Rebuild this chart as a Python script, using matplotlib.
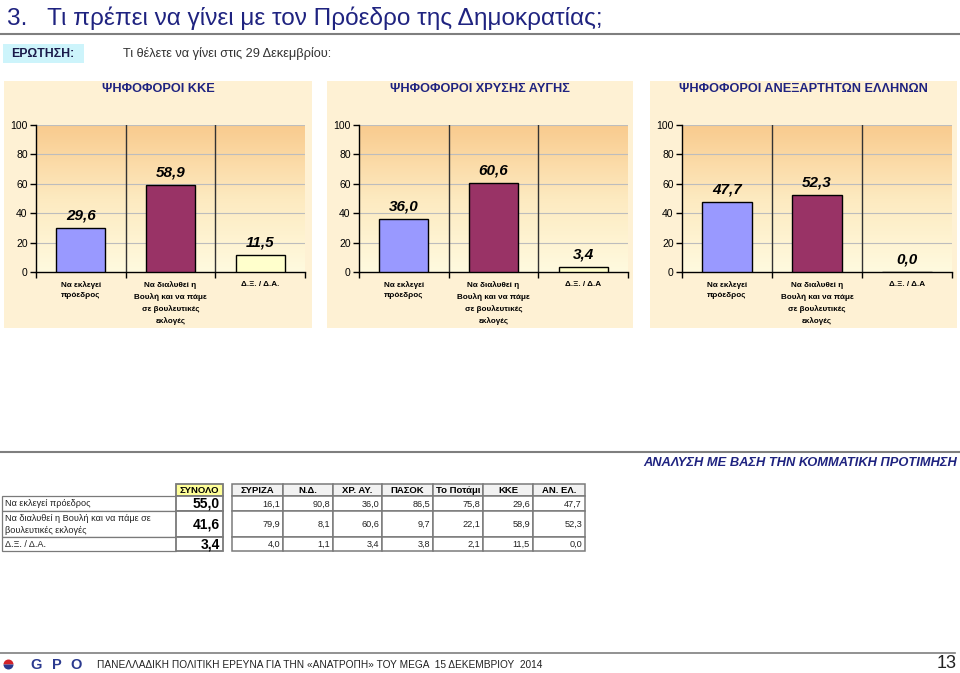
import matplotlib
matplotlib.use("Agg")
import matplotlib.pyplot as plt
import numpy as np
from matplotlib.colors import LinearSegmentedColormap
from matplotlib.patches import Rectangle, Wedge

plt.rcParams['font.family'] = ['Liberation Sans', 'DejaVu Sans']

# data (from the table of the slide)
answers = ["Να εκλεγεί πρόεδρος",
           "Να διαλυθεί η Βουλή και να πάμε σε\nβουλευτικές εκλογές",
           "Δ.Ξ. / Δ.Α."]
total = [55.0, 41.6, 3.4]
parties = ["ΣΥΡΙΖΑ", "Ν.Δ.", "ΧΡ. ΑΥ.", "ΠΑΣΟΚ", "Το Ποτάμι", "ΚΚΕ", "ΑΝ. ΕΛ."]
elect = [16.1, 90.8, 36.0, 86.5, 75.8, 29.6, 47.7]
dissolve = [79.9, 8.1, 60.6, 9.7, 22.1, 58.9, 52.3]
dkna = [4.0, 1.1, 3.4, 3.8, 2.1, 11.5, 0.0]

panel_titles = ["ΨΗΦΟΦΟΡΟΙ ΚΚΕ", "ΨΗΦΟΦΟΡΟΙ ΧΡΥΣΗΣ ΑΥΓΗΣ", "ΨΗΦΟΦΟΡΟΙ ΑΝΕΞΑΡΤΗΤΩΝ ΕΛΛΗΝΩΝ"]
panel_party = ["ΚΚΕ", "ΧΡ. ΑΥ.", "ΑΝ. ΕΛ."]
cat_labels = ["Να εκλεγεί\nπρόεδρος",
              "Να διαλυθεί η\nΒουλή και να πάμε\nσε βουλευτικές\nεκλογές"]
dk_labels = ["Δ.Ξ. / Δ.Α.", "Δ.Ξ. / Δ.Α", "Δ.Ξ. / Δ.Α"]

W, H = 960, 673
NAVY = '#1f2380'
fig = plt.figure(figsize=(W / 100, H / 100), dpi=100)
fig.patch.set_facecolor('white')


def px_axes(x0, y0, x1, y1, **kw):
    return fig.add_axes([x0 / W, 1 - y1 / H, (x1 - x0) / W, (y1 - y0) / H], **kw)


def fmt(v):
    return f"{v:.1f}".replace('.', ',')


# overlay in pixel coordinates for slide decorations
bg = px_axes(0, 0, W, H)
bg.set_xlim(0, W)
bg.set_ylim(H, 0)
bg.axis('off')

bg.text(7, 18, "3.   Τι πρέπει να γίνει με τον Πρόεδρο της Δημοκρατίας;",
        fontsize=17.6, color=NAVY, va='center', ha='left')
bg.plot([0, W], [34, 34], color='#7f7f7f', lw=1.5)
bg.add_patch(Rectangle((3, 44), 81, 18.5, color='#cdf4fb', lw=0))
bg.text(11, 54, "ΕΡΩΤΗΣΗ:", fontsize=8.8, fontweight='bold', color='#1a1a4a', va='center')
bg.text(123, 54, "Τι θέλετε να γίνει στις 29 Δεκεμβρίου:", fontsize=9.2, color='#333333',
        va='center')

# three panels
panel_x = [(4, 312, 36, 305), (327, 633, 359, 628), (650, 957, 682, 952)]
grad = LinearSegmentedColormap.from_list('g', ['#fffadf', '#fdeac0', '#f9cb8e'])
colors = ['#9999ff', '#993366', '#ffffcc']

for i, (px0, px1, ax0, ax1p) in enumerate(panel_x):
    bg.add_patch(Rectangle((px0, 81), px1 - px0, 247, color='#fef1d4', lw=0, zorder=0))
    bg.text((px0 + px1) / 2, 89.5, panel_titles[i], fontsize=9.2, fontweight='bold',
            color=NAVY, ha='center', va='center')

    j = parties.index(panel_party[i])
    vals = [elect[j], dissolve[j], dkna[j]]
    ax = px_axes(ax0, 125, ax1p, 272)
    ax.set_facecolor('none')
    ax.imshow(np.linspace(0, 1, 200).reshape(-1, 1)[::-1], cmap=grad, aspect='auto',
              extent=[-0.5, 2.5, 0, 100], zorder=0)
    x = np.arange(3)
    ax.bar(x, vals, width=0.55, color=colors, edgecolor='black', lw=1, zorder=3)
    for xi, v in zip(x, vals):
        ax.annotate(fmt(v), (xi, v), xytext=(0, 4), textcoords='offset points',
                    ha='center', va='bottom', fontsize=11, fontweight='bold',
                    fontstyle='italic', color='black', zorder=4)
    ax.set_xlim(-0.5, 2.5)
    ax.set_ylim(0, 100)
    for g in range(20, 101, 20):
        ax.axhline(g, color='#bdbdbd', lw=0.8, zorder=1)
    for s in (0.5, 1.5):
        ax.axvline(s, color='#333333', lw=1, zorder=2)
    ax.set_yticks(range(0, 101, 20))
    ax.set_xticks([-0.5, 0.5, 1.5, 2.5])
    ax.set_xticklabels([])
    ax.tick_params(axis='y', labelsize=7.5, length=4, width=1, pad=2)
    ax.tick_params(axis='x', length=4, width=1)
    for side in ('top', 'right'):
        ax.spines[side].set_visible(False)
    ax.spines['left'].set_linewidth(1)
    ax.spines['bottom'].set_linewidth(1)
    for xi, lab in enumerate(cat_labels + [dk_labels[i]]):
        ax.text(xi, -6, lab, ha='center', va='top', fontsize=5.9, fontweight='bold',
                linespacing=1.7, transform=ax.transData, clip_on=False)

# analysis section
bg.plot([0, W], [452, 452], color='#7f7f7f', lw=1.5)
bg.text(957, 463, "ΑΝΑΛΥΣΗ ΜΕ ΒΑΣΗ ΤΗΝ ΚΟΜΜΑΤΙΚΗ ΠΡΟΤΙΜΗΣΗ", fontsize=9.3,
        fontweight='bold', fontstyle='italic', color=NAVY, ha='right', va='center')

row_y = [484, 496, 511, 537, 551]
left_cols = [2, 176, 223]
right_cols = [232, 283, 333, 382, 433, 483, 533, 585]
rows = [elect, dissolve, dkna]
edge = '#7a7a7a'


def cell(x0, y0, x1, y1, fc='white', lw=0.9):
    bg.add_patch(Rectangle((x0, y0), x1 - x0, y1 - y0, facecolor=fc, edgecolor=edge, lw=lw))


# header
cell(left_cols[1], row_y[0], left_cols[2], row_y[1], fc='#ffff99', lw=1.3)
bg.text((left_cols[1] + left_cols[2]) / 2, (row_y[0] + row_y[1]) / 2 + 0.5, "ΣΥΝΟΛΟ",
        fontsize=6.8, fontweight='bold', ha='center', va='center')
for k, p in enumerate(parties):
    cell(right_cols[k], row_y[0], right_cols[k + 1], row_y[1], fc='#f2f2f2', lw=1.1)
    bg.text((right_cols[k] + right_cols[k + 1]) / 2, (row_y[0] + row_y[1]) / 2 + 0.5, p,
            fontsize=6.8, fontweight='bold', ha='center', va='center')

for r in range(3):
    y0, y1 = row_y[r + 1], row_y[r + 2]
    ym = (y0 + y1) / 2 + 0.5
    cell(left_cols[0], y0, left_cols[1], y1)
    bg.text(left_cols[0] + 3, ym, answers[r], fontsize=6.6, ha='left', va='center',
            linespacing=1.35, color='#222222')
    cell(left_cols[1], y0, left_cols[2], y1, lw=1.3)
    bg.text(left_cols[2] - 3, ym, fmt(total[r]), fontsize=10, fontweight='bold',
            ha='right', va='center')
    for k in range(len(parties)):
        cell(right_cols[k], y0, right_cols[k + 1], y1, lw=1.1)
        bg.text(right_cols[k + 1] - 3, ym, fmt(rows[r][k]), fontsize=6.6,
                ha='right', va='center', color='#222222')

# footer
bg.plot([0, 955], [653, 653], color='#7f7f7f', lw=1.2)
bg.add_patch(Wedge((8.5, 664.5), 5, 180, 360, color='#d2232a', lw=0))
bg.add_patch(Wedge((8.5, 664.5), 5, 0, 180, color='#2b3a8f', lw=0))
for lx, letter in zip([28, 48, 68], "GPO"):
    bg.text(lx + 8.5, 665, letter, fontsize=10.5, fontweight='bold', color='#2b3a8f',
            va='center', ha='center')
bg.text(97, 665, "ΠΑΝΕΛΛΑΔΙΚΗ ΠΟΛΙΤΙΚΗ ΕΡΕΥΝΑ ΓΙΑ ΤΗΝ «ΑΝΑΤΡΟΠΗ» ΤΟΥ MEGA  15 ΔΕΚΕΜΒΡΙΟΥ  2014",
        fontsize=7.3, color='#222222', va='center', ha='left')
bg.text(957, 664, "13", fontsize=13, color='#222222', va='center', ha='right')

fig.savefig("out.png", dpi=100)
